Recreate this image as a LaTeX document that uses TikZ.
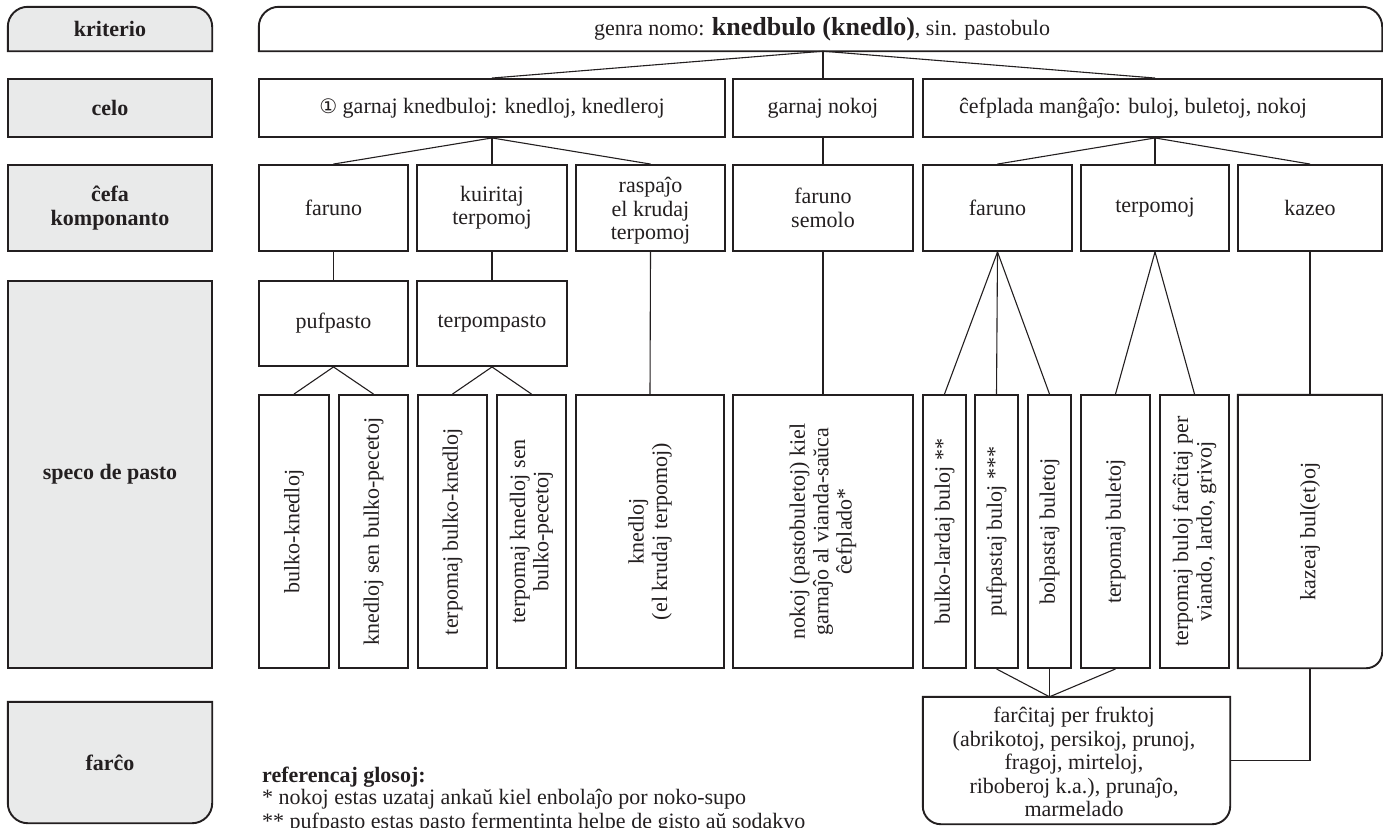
\documentclass[tikz,border=0pt]{standalone}
\usepackage{fontspec}
\setmainfont{Liberation Serif}
\newfontfamily\djv{DejaVu Sans}
\definecolor{lbl}{RGB}{233,234,234}
\definecolor{ink}{RGB}{35,31,32}
\begin{document}
\begin{tikzpicture}[x=1pt,y=1pt,
  every node/.style={font=\fontsize{22}{23.4}\selectfont, text=ink},
  box/.style={draw=ink, line width=1.9pt, rectangle, inner sep=0pt, fill=white},
  gbox/.style={box, fill=lbl},
  ghost/.style={rectangle, inner sep=0pt, draw=none},
  outline/.style={draw=ink, line width=1.9pt},
  bf/.style={font=\fontsize{22}{23.4}\selectfont\bfseries},
  conn/.style={draw=ink, line width=1.1pt},
  rot/.style={rotate=90, align=center, inner sep=0pt},
  txt/.style={align=center, inner sep=0pt},
]
\useasboundingbox (0,0) rectangle (1383,-827);
% ---------- label column ----------
\node[ghost, minimum width=204pt, minimum height=44pt] (L1) at (110,-29) {};
\path[outline, fill=lbl] (L1.south west) -- ([yshift=-20pt]L1.north west) arc[start angle=180,end angle=90,radius=20pt] -- ([xshift=-20pt]L1.north east) arc[start angle=90,end angle=0,radius=20pt] -- (L1.south east) -- cycle;
\node[bf] (l1t) at (L1) {kriterio};
\node[gbox, minimum width=204pt, minimum height=58pt] (L2) at (110,-108) {};
\node[bf] (l2t) at (L2) {celo};
\node[gbox, minimum width=204pt, minimum height=86pt] (L3) at (110,-208) {};
\node[bf, align=center] (l3t) at (L3) {ĉefa\\komponanto};
\node[gbox, minimum width=204pt, minimum height=387pt] (L4) at (110,-474.5) {};
\node[bf] (l4t) at (L4) {speco de pasto};
\node[ghost, minimum width=204pt, minimum height=121pt] (L5) at (110,-762.5) {};
\path[outline, fill=lbl] (L5.north west) -- ([yshift=20pt]L5.south west) arc[start angle=180,end angle=270,radius=20pt] -- ([xshift=-20pt]L5.south east) arc[start angle=270,end angle=360,radius=20pt] -- (L5.north east) -- cycle;
\node[bf] (l5t) at (L5) {farĉo};
% ---------- row 1 ----------
\node[ghost, minimum width=1123pt, minimum height=44pt] (G) at (820.5,-29) {};
\path[outline, fill=white] (G.south west) -- ([yshift=-20pt]G.north west) arc[start angle=180,end angle=90,radius=20pt] -- ([xshift=-20pt]G.north east) arc[start angle=90,end angle=0,radius=20pt] -- (G.south east) -- cycle;
\node (gt) at (822,-29) {genra nomo: {\fontsize{26}{28}\selectfont\bfseries knedbulo (knedlo)}, sin. pastobulo};
% ---------- row 2 ----------
\node[box, minimum width=466pt, minimum height=58pt] (C1) at (492,-108) {{\djv\fontsize{20}{22}\selectfont ①} garnaj knedbuloj: knedloj, knedleroj};
\node[box, minimum width=180pt, minimum height=58pt] (C2) at (823,-108) {garnaj nokoj};
\node[box, minimum width=459pt, minimum height=58pt] (C3) at (1152.5,-108) {};
\node (c3t) at (1133,-108) {ĉefplada manĝaĵo: buloj, buletoj, nokoj};
% ---------- row 3 ----------
\node[box, txt, minimum width=149pt, minimum height=86pt] (R3a) at (333.5,-208) {faruno};
\node[box, txt, minimum width=150pt, minimum height=86pt] (R3b) at (492,-208) {kuiritaj\\terpomoj};
\node[box, txt, minimum width=149pt, minimum height=86pt] (R3c) at (650.5,-208) {};
\node[txt] (r3ct) at (650.5,-211) {raspaĵo\\el krudaj\\terpomoj};
\node[box, txt, minimum width=180pt, minimum height=86pt] (R3d) at (823,-208) {faruno\\semolo};
\node[box, txt, minimum width=149pt, minimum height=86pt] (R3e) at (997.5,-208) {faruno};
\node[box, txt, minimum width=148pt, minimum height=86pt] (R3f) at (1155,-208) {terpomoj};
\node[box, txt, minimum width=144pt, minimum height=86pt] (R3g) at (1310,-208) {kazeo};
% ---------- row 4 ----------
\node[box, minimum width=149pt, minimum height=85pt] (R4a) at (333.5,-323.5) {pufpasto};
\node[box, minimum width=150pt, minimum height=85pt] (R4b) at (492,-323.5) {terpompasto};
% ---------- row 5 ----------
\node[box, minimum width=70pt, minimum height=273pt] (r5a) at (294,-531.5) {};
\node[box, minimum width=69pt, minimum height=273pt] (r5b) at (373.5,-531.5) {};
\node[box, minimum width=69pt, minimum height=273pt] (r5c) at (452.5,-531.5) {};
\node[box, minimum width=69pt, minimum height=273pt] (r5d) at (531.5,-531.5) {};
\node[box, minimum width=148pt, minimum height=273pt] (r5e) at (650,-531.5) {};
\node[box, minimum width=180pt, minimum height=273pt] (r5f) at (823,-531.5) {};
\node[box, minimum width=43pt, minimum height=273pt] (r5g) at (944.5,-531.5) {};
\node[box, minimum width=43pt, minimum height=273pt] (r5h) at (996.5,-531.5) {};
\node[box, minimum width=43pt, minimum height=273pt] (r5i) at (1049.5,-531.5) {};
\node[box, minimum width=69pt, minimum height=273pt] (r5j) at (1115.5,-531.5) {};
\node[box, minimum width=69pt, minimum height=273pt] (r5k) at (1194.5,-531.5) {};
\node[ghost, minimum width=144pt, minimum height=273pt] (r5l) at (1310,-531.5) {};
\path[outline, fill=white] (r5l.north west) -- (r5l.north east) -- ([yshift=16pt]r5l.south east) arc[start angle=0,end angle=-90,radius=16pt] -- (r5l.south west) -- cycle;
\node[rot] (t5a) at (r5a) {bulko-knedloj};
\node[rot] (t5b) at (r5b) {knedloj sen bulko-pecetoj};
\node[rot] (t5c) at (r5c) {terpomaj bulko-knedloj};
\node[rot] (t5d) at (r5d) {terpomaj knedloj sen\\bulko-pecetoj};
\node[rot] (t5e) at (r5e) {knedloj\\(el krudaj terpomoj)};
\node[rot] (t5f) at (r5f) {nokoj (pastobuletoj) kiel\\garnaĵo al vianda-saŭca\\ĉefplado*};
\node[rot] (t5g) at (r5g) {bulko-lardaj buloj **};
\node[rot] (t5h) at (r5h) {pufpastaj buloj ***};
\node[rot] (t5i) at (r5i) {bolpastaj buletoj};
\node[rot] (t5j) at (r5j) {terpomaj buletoj};
\node[rot] (t5k) at (r5k) {terpomaj buloj farĉitaj per\\viando, lardo, grivoj};
\node[rot] (t5l) at (r5l) {kazeaj bul(et)oj};
% ---------- row 6 ----------
\node[ghost, minimum width=307pt, minimum height=127pt] (F) at (1076.5,-760.5) {};
\path[outline, fill=white] (F.north west) -- ([yshift=18pt]F.south west) arc[start angle=180,end angle=270,radius=18pt] -- ([xshift=-18pt]F.south east) arc[start angle=270,end angle=360,radius=18pt] -- (F.north east) -- cycle;
\node[txt] (ft) at (1074,-762) {farĉitaj per fruktoj\\(abrikotoj, persikoj, prunoj,\\fragoj, mirteloj,\\riboberoj k.a.), prunaĵo,\\marmelado};
% ---------- connectors ----------
\coordinate (gA) at (C2.north |- G.south);
\draw[conn] (gA) -- (C1.north);
\draw[conn] (gA) -- (C2.north);
\draw[conn] (gA) -- (C3.north -| R3f.north);
\draw[conn] (C1.south) -- (R3a.north);
\draw[conn] (C1.south) -- (R3b.north);
\draw[conn] (C1.south) -- (R3c.north);
\draw[conn] (C2.south) -- (R3d.north);
\coordinate (cA) at (R3f.north |- C3.south);
\draw[conn] (cA) -- (R3e.north);
\draw[conn] (cA) -- (R3f.north);
\draw[conn] (cA) -- (R3g.north);
\draw[conn] (R3a.south) -- (R4a.north);
\draw[conn] (R3b.south) -- (R4b.north);
\draw[conn] (R4a.south) -- (r5a.north);
\draw[conn] (R4a.south) -- (r5b.north);
\draw[conn] (R4b.south) -- (r5c.north);
\draw[conn] (R4b.south) -- (r5d.north);
\draw[conn] (R3c.south) -- (r5e.north);
\draw[conn] (R3d.south) -- (r5f.north);
\draw[conn] (R3e.south) -- (r5g.north);
\draw[conn] (R3e.south) -- (r5h.north);
\draw[conn] (R3e.south) -- (r5i.north);
\draw[conn] (R3f.south) -- (r5j.north);
\draw[conn] (R3f.south) -- (r5k.north);
\draw[conn] (R3g.south) -- (r5l.north);
\coordinate (fA) at (r5i.south |- F.north);
\draw[conn] (r5h.south) -- (fA);
\draw[conn] (r5i.south) -- (fA);
\draw[conn] (r5j.south) -- (fA);
\draw[conn] (r5l.south) |- (F.east);
% ---------- footnotes ----------
\node[anchor=base west, inner sep=0pt, bf] (fn0) at (262,-782) {referencaj glosoj:};
\node[anchor=base west, inner sep=0pt] (fn1) at (262,-804) {* nokoj estas uzataj ankaŭ kiel enbolaĵo por noko-supo};
\node[anchor=base west, inner sep=0pt] (fn2) at (262,-828) {** pufpasto estas pasto fermentinta helpe de gisto aŭ sodakvo};
\end{tikzpicture}
\end{document}
